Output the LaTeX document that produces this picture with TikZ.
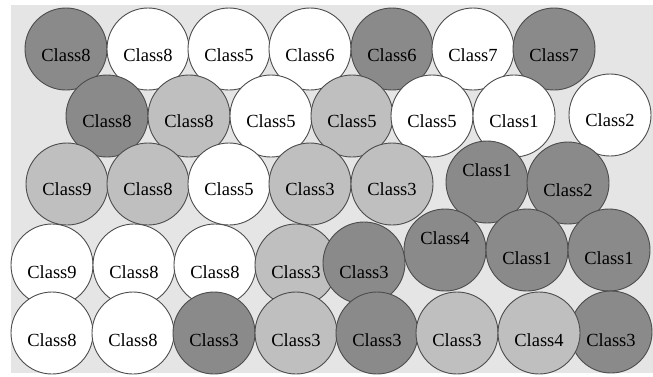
\documentclass[tikz,border=0pt]{standalone}
\usepackage{fontspec}
\setmainfont{Liberation Serif}
\newfontfamily\classfont{Liberation Serif}
\begin{document}
\begin{tikzpicture}[
    x=1pt,
    y=-1pt,
    ball/.style={circle, draw=black!70, line width=0.9pt, minimum size=82pt, inner sep=0pt, fill=white},
    dark/.style={ball, fill=black!46},
    light/.style={ball, fill=black!25},
    lbl/.style={font=\classfont\fontsize{18.5}{20}\selectfont, inner sep=0pt}
  ]
    \useasboundingbox (0,0) rectangle (653,376);
    \fill[black!10] (11,5) rectangle (653,373);
    % rows from top to bottom, later ones lie on top
    \foreach \n/\x/\y/\s/\t/\d in {
        a1/66/49/dark/Class8/-6, a2/148/49/ball/Class8/-6, a3/229/49/ball/Class5/-6,
        a4/310/49/ball/Class6/-6, a5/392/49/dark/Class6/-6, a6/473/49/ball/Class7/-6,
        a7/554/49/dark/Class7/-6,
        b1/107/116/dark/Class8/-5, b2/189/116/light/Class8/-5, b3/271/116/ball/Class5/-5,
        b4/352/116/light/Class5/-5, b5/432/116/ball/Class5/-5, b6/514/116/ball/Class1/-5,
        b7/610/115/ball/Class2/-5,
        c1/67/184/light/Class9/-5, c2/148/184/light/Class8/-5, c3/229/184/ball/Class5/-5,
        c4/310/184/light/Class3/-5, c5/392/184/light/Class3/-5, c6/487/182/dark/Class1/12,
        c7/568/183/dark/Class2/-7,
        d1/52/265/ball/Class9/-7, d2/134/265/ball/Class8/-7, d3/215/265/ball/Class8/-7,
        d4/296/265/light/Class3/-7, d5/364/263/dark/Class3/-9, d6/445/250/dark/Class4/12,
        d7/527/250/dark/Class1/-8, d8/609/250/dark/Class1/-8,
        e8/611/332/dark/Class3/-8,
        e1/52/333/ball/Class8/-7, e2/133/333/ball/Class8/-7, e3/214/333/dark/Class3/-7,
        e4/296/333/light/Class3/-7, e5/377/333/dark/Class3/-7, e6/457/333/light/Class3/-7,
        e7/539/333/light/Class4/-7} {
      \node[\s] (\n) at (\x,\y) {};
      \node[lbl] (t\n) at ([yshift=\d pt]\n) {\t};
    }
\end{tikzpicture}
\end{document}
